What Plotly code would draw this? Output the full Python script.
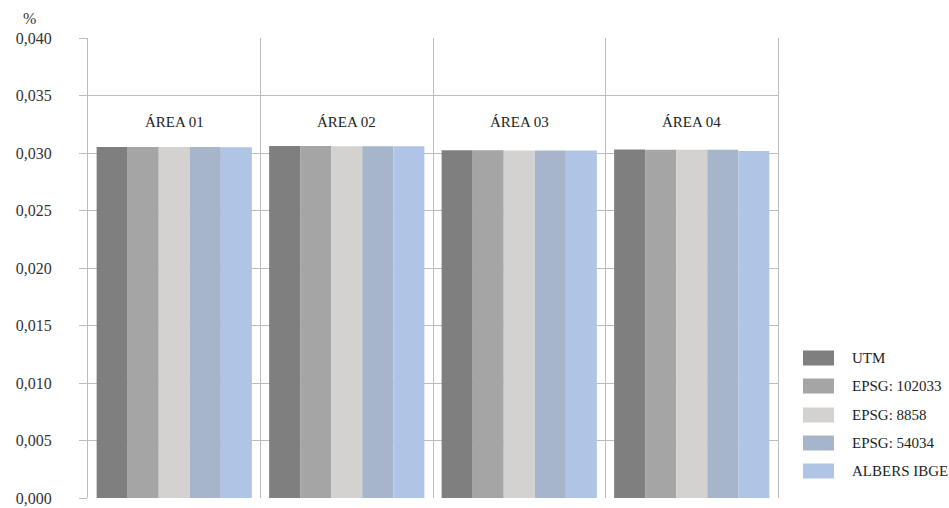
import plotly.graph_objects as go

# Categories (study areas) and series (projection systems)
areas = ["ÁREA 01", "ÁREA 02", "ÁREA 03", "ÁREA 04"]
series_names = ["UTM", "EPSG: 102033", "EPSG: 8858", "EPSG: 54034", "ALBERS IBGE"]

utm = [0.03053, 0.03060, 0.03023, 0.03030]
epsg_102033 = [0.03053, 0.03060, 0.03023, 0.03028]
epsg_8858 = [0.03052, 0.03059, 0.03022, 0.03028]
epsg_54034 = [0.03052, 0.03059, 0.03022, 0.03028]
albers_ibge = [0.03051, 0.03058, 0.03021, 0.03018]

y_ticks = [0.000, 0.005, 0.010, 0.015, 0.020, 0.025, 0.030, 0.035, 0.040]
y_tick_text = ["0,000", "0,005", "0,010", "0,015", "0,020", "0,025", "0,030", "0,035", "0,040"]

colors = ["#7f7f7f", "#a5a5a5", "#d4d2d0", "#a6b5c9", "#b0c5e6"]
series_values = [utm, epsg_102033, epsg_8858, epsg_54034, albers_ibge]

FONT = "'Liberation Serif', 'Times New Roman', serif"
GRID = "#bcbcbc"
W, H = 949, 508
M_L, M_R, M_T, M_B = 88, 171, 38, 10
PLOT_W = W - M_L - M_R
PLOT_H = H - M_T - M_B
PLOT_BOTTOM = H - M_B

x_pos = list(range(len(areas)))

fig = go.Figure()
for name, vals, col in zip(series_names, series_values, colors):
    fig.add_trace(go.Bar(
        x=x_pos, y=vals, name=name,
        marker=dict(color=col, line=dict(width=0)),
        showlegend=False,
    ))

# Area labels above each group
for i, a in enumerate(areas):
    fig.add_annotation(x=i, y=0.03268, text=a, showarrow=False,
                       font=dict(family=FONT, size=15, color="#222"),
                       xref="x", yref="y")

# Unit label in the top-left corner
fig.add_annotation(x=-59 / PLOT_W, y=1 + 20 / PLOT_H, xref="paper", yref="paper",
                   xanchor="center", yanchor="middle", text="%", showarrow=False,
                   font=dict(family=FONT, size=16, color="#333"))

# Legend drawn as swatches + labels on the right of the plot area
legend_y = [358, 386, 415, 443, 471]
for name, col, yc in zip(series_names, colors, legend_y):
    yp = (PLOT_BOTTOM - yc) / PLOT_H
    hh = 7.5 / PLOT_H
    fig.add_shape(type="rect", xref="paper", yref="paper",
                  xsizemode="pixel", xanchor=1, x0=25, x1=56,
                  y0=yp - hh, y1=yp + hh,
                  fillcolor=col, line=dict(width=0), layer="above")
    fig.add_annotation(xref="paper", yref="paper", x=1, y=yp,
                       xanchor="left", yanchor="middle", xshift=72,
                       text=name, showarrow=False,
                       font=dict(family=FONT, size=15, color="#222"))

fig.update_layout(
    width=W, height=H,
    margin=dict(l=M_L, r=M_R, t=M_T, b=M_B, autoexpand=False),
    paper_bgcolor="white", plot_bgcolor="white",
    barmode="group", bargap=0.10, bargroupgap=0,
    font=dict(family=FONT, size=16, color="#333"),
    xaxis=dict(
        range=[-0.5, 3.5],
        tickvals=[-0.5, 0.5, 1.5, 2.5, 3.5],
        showticklabels=False, ticks="",
        showgrid=True, gridcolor=GRID, gridwidth=1,
        zeroline=False, showline=False, fixedrange=True, automargin=False,
    ),
    yaxis=dict(
        range=[0, 0.040],
        tickvals=y_ticks, ticktext=y_tick_text,
        showgrid=True, gridcolor=GRID, gridwidth=1,
        ticks="outside", ticklen=8, tickcolor=GRID,
        ticklabelstandoff=24, ticklabeloverflow="allow",
        tickfont=dict(family=FONT, size=16, color="#333"),
        zeroline=False, showline=True, mirror=True, linecolor=GRID,
        fixedrange=True, automargin=False,
    ),
)

fig.write_html("out.html")
